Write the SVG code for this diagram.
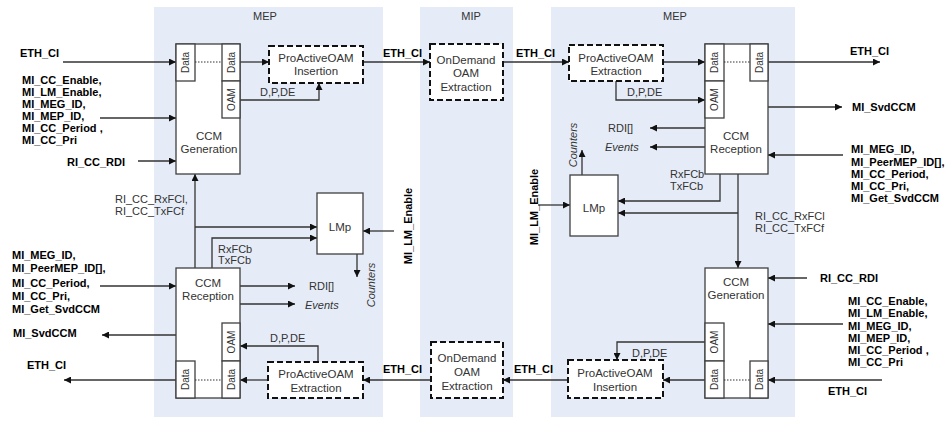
<svg xmlns="http://www.w3.org/2000/svg" width="947" height="423" viewBox="0 0 947 423">
<style>
.pn{fill:#e6ecf7}
.box{fill:#fff;stroke:#404040;stroke-width:1.3}
.dash{fill:#fff;stroke:#111;stroke-width:2;stroke-dasharray:6 3}
.ln{fill:none;stroke:#333;stroke-width:1.3}
.ar{marker-end:url(#ah)}
.dot{stroke:#333;stroke-width:1;stroke-dasharray:1.5 1.5}
text{font-family:"Liberation Sans",Arial,sans-serif;font-size:11.5px;fill:#333}
.c{text-anchor:middle}
.b{font-weight:bold;font-size:11px;fill:#000}
.s{font-size:11px}
.tab{font-size:10px;text-anchor:middle}
.i{font-style:italic}
</style>
<defs>
<marker id="ah" viewBox="0 0 10 10" refX="10" refY="5" markerWidth="9" markerHeight="7" markerUnits="userSpaceOnUse" orient="auto"><path d="M0,0 L10,5 L0,10 z" fill="#111"/></marker>
</defs>
<rect width="947" height="423" fill="#fff"/>
<g id="panels">
<rect class="pn" x="154" y="7" width="229" height="410"/>
<rect class="pn" x="420" y="7" width="93" height="410"/>
<rect class="pn" x="551" y="7" width="244" height="410"/>
<text class="c s" x="265" y="20">MEP</text>
<text class="c s" x="471" y="20">MIP</text>
<text class="c s" x="675" y="20">MEP</text>
</g>
<g id="connectors">
<path class="ln ar" d="M63,62 H176"/>
<path class="ln ar" d="M100,118 H176"/>
<path class="ln ar" d="M138,161 H176"/>
<path class="ln ar" d="M240,62 H269"/>
<path class="ln ar" d="M240,100 H319 V83"/>
<path class="ln ar" d="M195,268 V174"/>
<path class="ln ar" d="M195,227 H317"/>
<path class="ln ar" d="M212,268 V238 H317"/>
<path class="ln ar" d="M394,231 H363"/>
<path class="ln ar" d="M357,254 V277"/>
<path class="ln ar" d="M240,286 H295"/>
<path class="ln ar" d="M240,304 H295"/>
<path class="ln ar" d="M100,286 H176"/>
<path class="ln ar" d="M176,335 H102"/>
<path class="ln ar" d="M176,380 H64"/>
<path class="ln ar" d="M268,380 H240"/>
<path class="ln ar" d="M318,362 V346 H240"/>
<path class="ln ar" d="M363,62 H430"/>
<path class="ln ar" d="M503,62 H569"/>
<path class="ln ar" d="M568,380 H503"/>
<path class="ln ar" d="M431,380 H363"/>
<path class="ln ar" d="M663,62 H705"/>
<path class="ln ar" d="M616,81 V100 H705"/>
<path class="ln ar" d="M705,128 H650"/>
<path class="ln ar" d="M705,147 H650"/>
<path class="ln ar" d="M768,62 H880"/>
<path class="ln ar" d="M768,107 H842"/>
<path class="ln ar" d="M843,155 H768"/>
<path class="ln ar" d="M720,174 V201 H618"/>
<path class="ln ar" d="M738,174 V268"/>
<path class="ln ar" d="M738,213 H618"/>
<path class="ln ar" d="M538,205 H570"/>
<path class="ln ar" d="M582,175 V150"/>
<path class="ln ar" d="M807,278 H768"/>
<path class="ln ar" d="M843,324 H768"/>
<path class="ln ar" d="M882,380 H768"/>
<path class="ln ar" d="M705,380 H663"/>
<path class="ln ar" d="M705,342 H617 V360"/>
</g>
<g id="ccm-gen-left">
<rect class="box" x="176" y="44" width="64" height="130"/>
<rect class="box" x="176" y="44" width="19" height="37"/>
<rect class="box" x="222" y="44" width="18" height="37"/>
<rect class="box" x="222" y="81" width="18" height="37"/>
<line class="dot" x1="195" y1="62" x2="222" y2="62"/>
<text class="tab" transform="translate(189,62.5) rotate(-90)">Data</text>
<text class="tab" transform="translate(234.5,62.5) rotate(-90)">Data</text>
<text class="tab" transform="translate(234.5,99.5) rotate(-90)">OAM</text>
<text class="c" x="209" y="140">CCM</text>
<text class="c" x="209" y="153">Generation</text>
</g>
<g id="pro-ins-left">
<rect class="dash" x="269" y="46" width="94" height="37"/>
<text class="c" x="316" y="62">ProActiveOAM</text>
<text class="c" x="316" y="75">Insertion</text>
</g>
<g id="ccm-rec-left">
<rect class="box" x="176" y="268" width="64" height="130"/>
<rect class="box" x="222" y="323" width="18" height="38"/>
<rect class="box" x="176" y="361" width="19" height="37"/>
<rect class="box" x="222" y="361" width="18" height="37"/>
<line class="dot" x1="195" y1="380" x2="222" y2="380"/>
<text class="tab" transform="translate(234.5,342) rotate(-90)">OAM</text>
<text class="tab" transform="translate(189,379.5) rotate(-90)">Data</text>
<text class="tab" transform="translate(234.5,379.5) rotate(-90)">Data</text>
<text class="c" x="208" y="287">CCM</text>
<text class="c" x="208" y="300">Reception</text>
</g>
<g id="pro-ext-left">
<rect class="dash" x="268" y="362" width="95" height="36"/>
<text class="c" x="316" y="378">ProActiveOAM</text>
<text class="c" x="316" y="392">Extraction</text>
</g>
<g id="lmp-left">
<rect class="box" x="317" y="193" width="46" height="61"/>
<text class="c" x="340" y="231">LMp</text>
</g>
<g id="ondemand-top">
<rect class="dash" x="430" y="44" width="73" height="56"/>
<text class="c" x="466" y="64">OnDemand</text>
<text class="c" x="466" y="77">OAM</text>
<text class="c" x="466" y="91">Extraction</text>
</g>
<g id="ondemand-bottom">
<rect class="dash" x="431" y="342" width="72" height="56"/>
<text class="c" x="467" y="362">OnDemand</text>
<text class="c" x="467" y="376">OAM</text>
<text class="c" x="467" y="390">Extraction</text>
</g>
<g id="pro-ext-right">
<rect class="dash" x="569" y="45" width="94" height="36"/>
<text class="c" x="616" y="62">ProActiveOAM</text>
<text class="c" x="616" y="75">Extraction</text>
</g>
<g id="ccm-rec-right">
<rect class="box" x="705" y="44" width="63" height="130"/>
<rect class="box" x="705" y="44" width="19" height="37"/>
<rect class="box" x="705" y="81" width="19" height="37"/>
<rect class="box" x="750" y="44" width="18" height="37"/>
<line class="dot" x1="724" y1="62" x2="750" y2="62"/>
<text class="tab" transform="translate(718,62.5) rotate(-90)">Data</text>
<text class="tab" transform="translate(718,99.5) rotate(-90)">OAM</text>
<text class="tab" transform="translate(762.5,62.5) rotate(-90)">Data</text>
<text class="c" x="736" y="140">CCM</text>
<text class="c" x="736" y="153">Reception</text>
</g>
<g id="lmp-right">
<rect class="box" x="570" y="175" width="48" height="61"/>
<text class="c" x="594" y="212">LMp</text>
</g>
<g id="ccm-gen-right">
<rect class="box" x="705" y="268" width="63" height="130"/>
<rect class="box" x="705" y="323" width="19" height="38"/>
<rect class="box" x="705" y="361" width="19" height="37"/>
<rect class="box" x="750" y="361" width="18" height="37"/>
<line class="dot" x1="724" y1="380" x2="750" y2="380"/>
<text class="tab" transform="translate(718,342) rotate(-90)">OAM</text>
<text class="tab" transform="translate(718,379.5) rotate(-90)">Data</text>
<text class="tab" transform="translate(762.5,379.5) rotate(-90)">Data</text>
<text class="c" x="736" y="286">CCM</text>
<text class="c" x="736" y="299">Generation</text>
</g>
<g id="pro-ins-right">
<rect class="dash" x="568" y="360" width="95" height="38"/>
<text class="c" x="615" y="377">ProActiveOAM</text>
<text class="c" x="615" y="391">Insertion</text>
</g>
<g id="labels">
<text class="b" x="20" y="57">ETH_CI</text>
<text class="b" x="22" y="84">MI_CC_Enable,</text>
<text class="b" x="22" y="96">MI_LM_Enable,</text>
<text class="b" x="22" y="108">MI_MEG_ID,</text>
<text class="b" x="22" y="120">MI_MEP_ID,</text>
<text class="b" x="22" y="132">MI_CC_Period ,</text>
<text class="b" x="22" y="144">MI_CC_Pri</text>
<text class="b" x="67" y="166">RI_CC_RDI</text>
<text class="s" x="115" y="203">RI_CC_RxFCl,</text>
<text class="s" x="115" y="215">RI_CC_TxFCf</text>
<text class="s" x="218" y="253">RxFCb</text>
<text class="s" x="218" y="264">TxFCb</text>
<text class="b" x="12" y="259">MI_MEG_ID,</text>
<text class="b" x="12" y="272">MI_PeerMEP_ID[],</text>
<text class="b" x="12" y="287">MI_CC_Period,</text>
<text class="b" x="12" y="300">MI_CC_Pri,</text>
<text class="b" x="12" y="313">MI_Get_SvdCCM</text>
<text class="b" x="13" y="337">MI_SvdCCM</text>
<text class="b" x="27" y="369">ETH_CI</text>
<text class="s" x="309" y="290">RDI[]</text>
<text class="s i" x="305" y="309">Events</text>
<text class="s" x="260" y="96">D,P,DE</text>
<text class="s" x="270" y="342">D,P,DE</text>
<text class="b" x="383" y="57">ETH_CI</text>
<text class="b" x="516" y="57">ETH_CI</text>
<text class="b" x="383" y="373">ETH_CI</text>
<text class="b" x="514" y="373">ETH_CI</text>
<text class="b c" transform="translate(412,226) rotate(-90)">MI_LM_Enable</text>
<text class="s i c" transform="translate(375,285) rotate(-90)">Counters</text>
<text class="s" x="627" y="96">D,P,DE</text>
<text class="s" x="608" y="132">RDI[]</text>
<text class="s i" x="605" y="151">Events</text>
<text class="s i c" transform="translate(577,145) rotate(-90)">Counters</text>
<text class="b c" transform="translate(538,207) rotate(-90)">MI_LM_Enable</text>
<text class="s" x="670" y="178">RxFCb</text>
<text class="s" x="670" y="190">TxFCb</text>
<text class="s" x="755" y="220">RI_CC_RxFCl</text>
<text class="s" x="755" y="232">RI_CC_TxFCf</text>
<text class="b" x="850" y="55">ETH_CI</text>
<text class="b" x="852" y="111">MI_SvdCCM</text>
<text class="b" x="851" y="153">MI_MEG_ID,</text>
<text class="b" x="851" y="166">MI_PeerMEP_ID[],</text>
<text class="b" x="851" y="178">MI_CC_Period,</text>
<text class="b" x="851" y="190">MI_CC_Pri,</text>
<text class="b" x="851" y="202">MI_Get_SvdCCM</text>
<text class="b" x="820" y="282">RI_CC_RDI</text>
<text class="b" x="848" y="305">MI_CC_Enable,</text>
<text class="b" x="848" y="317">MI_LM_Enable,</text>
<text class="b" x="848" y="330">MI_MEG_ID,</text>
<text class="b" x="848" y="342">MI_MEP_ID,</text>
<text class="b" x="848" y="354">MI_CC_Period ,</text>
<text class="b" x="848" y="366">MI_CC_Pri</text>
<text class="b" x="828" y="395">ETH_CI</text>
<text class="s" x="632" y="357">D,P,DE</text>
</g>
</svg>
